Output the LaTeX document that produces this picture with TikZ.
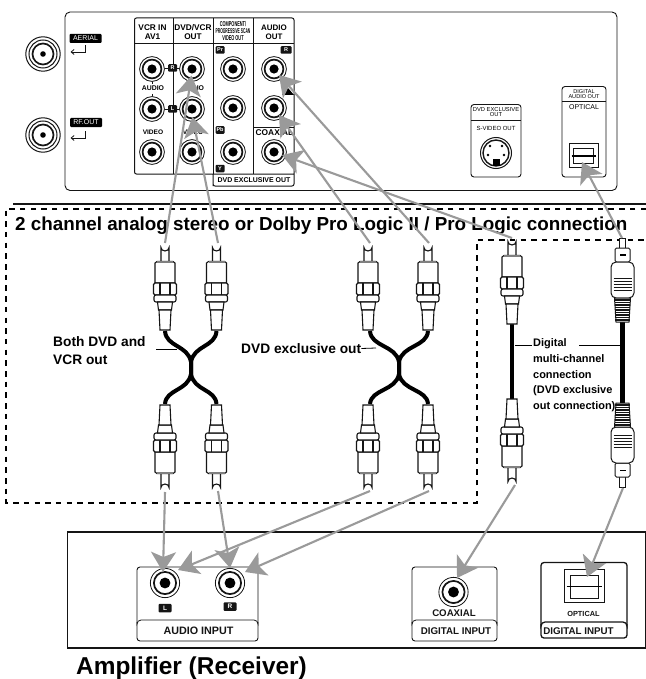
\documentclass[tikz,border=0pt]{standalone}
\usepackage{fontspec}
\setmainfont{Liberation Sans}
\usetikzlibrary{arrows.meta}
\definecolor{conn}{HTML}{9A9A9A}
\definecolor{ink}{HTML}{151515}
\newcommand{\fs}[1]{\fontsize{#1}{#1}\selectfont}
\tikzset{
 x=1bp,y=-1bp,
 thinline/.style={draw=ink,line width=0.8bp},
 panelbox/.style={draw=ink,line width=0.9bp,fill=white,rounded corners=3bp},
 gridline/.style={draw=ink,line width=1bp},
 flow/.style={draw=conn,line width=2.1bp,-{Stealth[length=20bp,width=25bp,inset=5bp,fill=conn]}},
 cable/.style={draw=black,line width=4bp},
 dashline/.style={draw=black,line width=2bp,dash pattern=on 5.5bp off 5.2bp},
 leader/.style={draw=black,line width=0.8bp},
 tag/.style={fill=ink,text=white,rounded corners=1bp,inner sep=0pt,minimum width=9bp,minimum height=7.5bp,font=\bfseries\fs{5.5}},
 tagwide/.style={fill=black,text=white,rounded corners=1bp,inner sep=0pt,minimum width=32bp,minimum height=9bp,font=\fs{7}},
 boldlabel/.style={inner sep=0pt,font=\bfseries\fs{13.8},align=left,anchor=west},
 smalltxt/.style={inner sep=0pt,font=\fs{7},align=center},
 hdr/.style={inner sep=0pt,font=\bfseries\fs{8.3},align=center},
 inputtxt/.style={inner sep=0pt,font=\bfseries\fs{9.8},text=ink},
}
% jack: name, x, y, scale
\newcommand{\jack}[4]{%
 \begin{scope}[shift={(#2,#3)},scale=#4]
  \fill[white] (0,0) circle (12.6);
  \draw[ink,line width=0.8bp] (0,0) circle (12.4);
  \draw[ink,line width=1.7bp] (0,0) circle (9.4);
  \fill[black] (0,0) circle (4.6);
 \end{scope}
 \coordinate (#1) at (#2,#3);}
% coax socket
\newcommand{\coaxj}[3]{%
 \draw[ink,line width=1bp] (#2,#3) circle (17.2);
 \draw[ink,line width=1bp] (#2,#3) circle (14);
 \draw[ink,line width=1.7bp] (#2,#3) circle (10.5);
 \fill[black] (#2,#3) circle (2.8);
 \coordinate (#1) at (#2,#3);}
% RCA plug: x, tip y, direction (1 down, -1 up)
\newcommand{\rca}[3]{%
 \begin{scope}[shift={(#1,#2)},yscale=#3,ink,line width=1.1bp,fill=white]
  \filldraw (-4,19) -- (-4,3.5) arc[start angle=180,end angle=0,x radius=4,y radius=3.5] -- (4,19);
  \filldraw (-10,19) -- (-10,39) -- (10,39) -- (10,19) -- (8,17.5) -- (-8,17.5) -- cycle;
  \draw[line width=1.5bp,gray] (-8,18.2) -- (8,18.2);
  \filldraw[rounded corners=1.5bp] (-11.5,39) rectangle (11.5,51);
  \draw (-5,39) -- (-5,51) (5,39) -- (5,51);
  \filldraw[rounded corners=2bp] (-11,51) rectangle (11,58);
  \filldraw (-7.5,58) -- (-6.5,66) -- (6.5,66) -- (7.5,58) -- cycle;
  \filldraw (-6,66) -- (-5,86) -- (5,86) -- (6,66) -- cycle;
 \end{scope}}
% Optical plug
\newcommand{\optp}[3]{%
 \begin{scope}[shift={(#1,#2)},yscale=#3,ink,line width=1bp,fill=white]
  \filldraw (-3,10) -- (-3,0) -- (3,0) -- (3,10);
  \filldraw[rounded corners=1.5bp] (-7.5,10) rectangle (7.5,24);
  \fill[black] (-3,16) rectangle (3,17.5);
  \filldraw[rounded corners=5bp] (-11.5,24) -- (-11.5,60) -- (11.5,60) -- (11.5,24) -- cycle;
  \draw (-9,40) -- (9,40) (-9,43) -- (9,43) (-9,46) -- (9,46) (-9,49) -- (9,49) (-9,52) -- (9,52);
  \filldraw (-8,60) -- (-6.5,84) -- (6.5,84) -- (8,60) -- cycle;
  \foreach \yy in {62,64.5,...,83} {\draw[line width=1.1bp] (-7.6,\yy) -- (7.6,\yy);}
 \end{scope}}
% Cross cable: centre, right end, left end
\newcommand{\xcable}[3]{%
 \draw[cable] (#3,331) .. controls (#3+1,347) and (#1-3,345) .. (#1,362) -- (#1,374) .. controls (#1-3,391) and (#3+1,389) .. (#3,404);
 \draw[cable] (#2,331) .. controls (#2-1,347) and (#1+3,345) .. (#1,362) -- (#1,374) .. controls (#1+3,391) and (#2-1,389) .. (#2,404);}
% square optical port
\newcommand{\optport}[9]{%
 \draw[ink,line width=1bp] (#1,#3) rectangle (#2,#4);
 \draw[ink,line width=1bp] (#5,#6) rectangle (#7,#8);
 \draw[black,line width=1.4bp] (#1+2.5,#9) -- (#2-2.5,#9);}
\begin{document}
\begin{tikzpicture}
\useasboundingbox[fill=white] (0,0) rectangle (646,679);

%% ---- back panel ----
\draw[panelbox,rounded corners=5bp] (65,12) rectangle (617,190.5);
\coaxj{aerial}{43}{54}
\coaxj{rfout}{43}{135}
\node[tagwide] (lblaerial) at (85.5,38.5) {AERIAL};
\node[tagwide] (lblrf) at (86,122.5) {RF.OUT};
\coordinate (a1) at (85.5,45);\coordinate (a2) at (85.5,52);\coordinate (a3) at (70.5,52);
\draw[ink,line width=.8bp,-{Straight Barb[length=3bp,width=5bp]}] (a1) -- (a2) -- (a3);
\coordinate (r1) at (85.5,131);\coordinate (r2) at (85.5,138);\coordinate (r3) at (70.5,138);
\draw[ink,line width=.8bp,-{Straight Barb[length=3bp,width=5bp]}] (r1) -- (r2) -- (r3);

% jack matrix frame
\draw[gridline] (213,174) -- (213,186) [rounded corners=2bp] -- (213,186) -- (294,186) -- (294,18) -- (134.5,18) -- (134.5,174) -- (294,174);
\draw[gridline] (134.5,44) -- (294,44);
\draw[gridline] (173,18) -- (173,174);
\draw[gridline] (213,18) -- (213,174);
\draw[gridline] (253.5,18) -- (253.5,174);
\draw[gridline] (253.5,127) -- (294,127);

\node[hdr] (h1) at (152.5,32) {VCR IN\\[1.5pt]AV1};
\node[hdr] (h2) at (193,32) {DVD/VCR\\[1.5pt]OUT};
\node[inner sep=0pt,align=center,font=\bfseries\fs{5.4}] (h3) at (233,31) {\scalebox{.72}[1.3]{COMPONENT/}\\[1.5pt]\scalebox{.62}[1.3]{PROGRESSIVE SCAN}\\[1.5pt]\scalebox{.72}[1.3]{VIDEO OUT}};
\node[hdr,font=\bfseries\fs{8}] (h4) at (274,32) {AUDIO\\[1.5pt]OUT};

\draw[thinline] (160,68) -- (185,68) (160,109) -- (185,109);
\draw[thinline] (152,78) -- (152,84) (152,94) -- (152,100);
\jack{vcrr}{152}{69}{1}
\jack{dvdr}{192}{69}{1}
\jack{pr}{233}{69}{1}
\jack{aor}{274}{69}{1}
\jack{vcrl}{152}{109}{1}
\jack{dvdl}{192}{109}{1}
\jack{pb}{233}{108}{1}
\jack{aol}{274}{108}{1}
\jack{vcrv}{152}{152}{1}
\jack{dvdv}{192}{152}{1}
\jack{yy}{233}{152}{1}
\jack{coaxout}{274}{152}{1}
\node[tag] (tr) at (172.5,68) {R};
\node[tag] (tl) at (172.5,109) {L};
\node[tag] (tpr) at (220,50) {Pr};
\node[tag] (tpb) at (220,130) {Pb};
\node[tag] (ty) at (220,168.5) {Y};
\node[tag,minimum width=11bp] (tar) at (286,50) {R};
\node[hdr,font=\bfseries\fs{6.9}] (au1) at (153,88.5) {AUDIO};
\node[hdr,font=\bfseries\fs{6.9}] (au2) at (193,88.5) {AUDIO};
\node[hdr,font=\bfseries\fs{6.6}] (vi1) at (153,132) {VIDEO};
\node[hdr,font=\bfseries\fs{6.6}] (vi2) at (193,132) {VIDEO};
\node[hdr,font=\bfseries\fs{8.4}] (coxt) at (274.5,133) {COAXIAL};
\node[hdr,font=\bfseries\fs{7}] (dxo) at (254,180.5) {DVD EXCLUSIVE OUT};
\fill[black] (282,95) -- (294,95) -- (288,88) -- cycle;

% S-video
\draw[panelbox] (471,104.5) rectangle (521,177);
\draw[thinline] (471,120) -- (521,120);
\node[smalltxt,font=\fs{5.8}] (sv1) at (496,112) {DVD EXCLUSIVE\\OUT};
\node[smalltxt,font=\fs{6}] (sv2) at (496,128.5) {S-VIDEO OUT};
\draw[ink,line width=1bp] (496,153) circle (15.5);
\draw[ink,line width=1.4bp] (496,153) circle (13);
\fill[black] (492.5,159) rectangle (499.5,166);
\fill[black] (488,155) circle (1.3) (504,155) circle (1.3) (490,146) circle (1.3) (502,146) circle (1.3);

% Optical out
\draw[panelbox] (562,86.5) rectangle (606,177);
\draw[thinline] (562,101) -- (606,101);
\node[smalltxt,font=\fs{5.6}] (oo1) at (584,94) {DIGITAL\\AUDIO OUT};
\node[smalltxt] (oo2) at (584,107) {OPTICAL};
\optport{569}{598}{143}{167}{573}{148}{593}{163}{156}

%% ---- dashed zones ----
\draw[draw=ink,line width=1.3bp] (13,204) -- (646,204);
\coordinate (d0) at (646,208.5);\coordinate (d1) at (6,208.5);\coordinate (d2) at (6,503);\coordinate (d3) at (477,503);\coordinate (d4) at (477,240);\coordinate (d5) at (646,240);
\draw[dashline] (d0) -- (d1) -- (d2) -- (d3) -- (d4) -- (d5);
\node[inner sep=0pt,anchor=base west,font=\bfseries\fs{18.9}] (title) at (15,230) {2 channel analog stereo or Dolby Pro Logic II / Pro Logic connection};

%% ---- plugs and cables ----
\xcable{191}{216.5}{165}
\xcable{399}{428}{370}
\rca{165}{244}{1}
\rca{216.5}{244}{1}
\rca{368}{244}{1}
\rca{428}{244}{1}
\rca{165}{491}{-1}
\rca{216.5}{491}{-1}
\rca{368}{491}{-1}
\rca{428}{491}{-1}
\draw[cable,line width=4.5bp] (512,324) -- (512,399);
\rca{512}{238}{1}
\rca{512}{485}{-1}
\draw[cable,line width=4.5bp] (622.5,322) -- (622.5,405);
\optp{622.5}{238}{1}
\optp{622.5}{487}{-1}

\coordinate (t1) at (165,243);\coordinate (t2) at (218,243);\coordinate (t3) at (370,243);\coordinate (t4) at (429,243);\coordinate (t5) at (512,238);\coordinate (t6) at (622,238);
\coordinate (b1) at (165,492);\coordinate (b2) at (218,491);\coordinate (b3) at (370,491);\coordinate (b4) at (429,491);\coordinate (b5) at (515,485);\coordinate (b6) at (623,488);

%% ---- labels ----
\node[boldlabel] (l1) at (53,350.5) {Both DVD and\\[3.5pt]VCR out};
\coordinate (l1e) at (156,349);\coordinate (l1f) at (177,349);
\draw[leader] (l1e) -- (l1f);
\node[boldlabel] (l2) at (241,348.5) {DVD exclusive out};
\coordinate (l2e) at (376,348);
\draw[leader] (l2.east) -- (l2e);
\node[boldlabel,font=\bfseries\fs{11},anchor=north west] (l3) at (533,338) {Digital\\[5pt]multi-channel\\[5pt]connection\\[5pt](DVD exclusive\\[5pt]out connection)};
\coordinate (l3a) at (515,345);\coordinate (l3b) at (532,345);\coordinate (l3c) at (579,345);\coordinate (l3d) at (621,345);
\draw[leader] (l3a) -- (l3b);
\draw[leader,line width=1bp] (l3c) -- (l3d);

%% ---- amplifier ----
\draw[draw=ink,line width=1.6bp] (67.5,532) rectangle (646,648);
\draw[panelbox] (137,567) rectangle (258,641);
\draw[thinline] (137,622) [rounded corners=4bp] -- (137,620) -- (258,620) -- (258,622);
\jack{ampl}{165}{583}{1.18}
\jack{ampr}{230}{583}{1.18}
\node[tag,minimum width=13bp,minimum height=8.5bp,font=\bfseries\fs{6.5}] (al) at (165,608) {L};
\node[tag,minimum width=13bp,minimum height=8.5bp,font=\bfseries\fs{6.5}] (ar) at (230,606.5) {R};
\node[inputtxt,font=\bfseries\fs{10.8}] (ai) at (198.5,631) {AUDIO INPUT};
\draw[panelbox] (412,567) rectangle (497,641);
\draw[thinline] (412,622) [rounded corners=4bp] -- (412,620) -- (497,620) -- (497,622);
\jack{ampc}{453.5}{592}{1.18}
\node[inputtxt,font=\bfseries\fs{9.7}] (cx) at (454,613.5) {COAXIAL};
\node[inputtxt] (di1) at (456,631) {DIGITAL INPUT};
\draw[panelbox,line width=1.3bp] (541,562.5) rectangle (627,638);
\draw[thinline,line width=1.3bp] (541,624) [rounded corners=4bp] -- (541,622) -- (627,622) -- (627,624);
\optport{564}{604}{569.5}{602}{570}{575.5}{598}{598}{586.5}
\node[inputtxt,font=\bfseries\fs{7.4}] (op) at (583.5,613.5) {OPTICAL};
\node[inputtxt] (di2) at (578.5,631) {DIGITAL INPUT};
\node[inner sep=0pt,anchor=base west,font=\bfseries\fs{24.5}] (amp) at (76,674) {Amplifier (Receiver)};

%% ---- connectors ----
\coordinate (e1) at (191.5,75.5);\coordinate (e2) at (192.5,117);\coordinate (e3) at (279,75);\coordinate (e4) at (279,115);\coordinate (e5) at (282,155);\coordinate (e6) at (582,162);
\draw[flow] (t1) -- (e1);
\draw[flow] (t2) -- (e2);
\draw[flow] (t3) -- (e4);
\draw[flow] (t4) -- (e3);
\draw[flow] (t5) -- (e5);
\draw[flow] (t6) -- (e6);
\coordinate (f1) at (163,572);\coordinate (f2) at (230,568);\coordinate (f3) at (178,570);\coordinate (f4) at (245,572);\coordinate (f5) at (457,578);\coordinate (f6) at (587,577);
\draw[flow] (b1) -- (f1);
\draw[flow] (b2) -- (f2);
\draw[flow] (b3) -- (f3);
\draw[flow] (b4) -- (f4);
\draw[flow] (b5) -- (f5);
\draw[flow] (b6) -- (f6);
\end{tikzpicture}
\end{document}
